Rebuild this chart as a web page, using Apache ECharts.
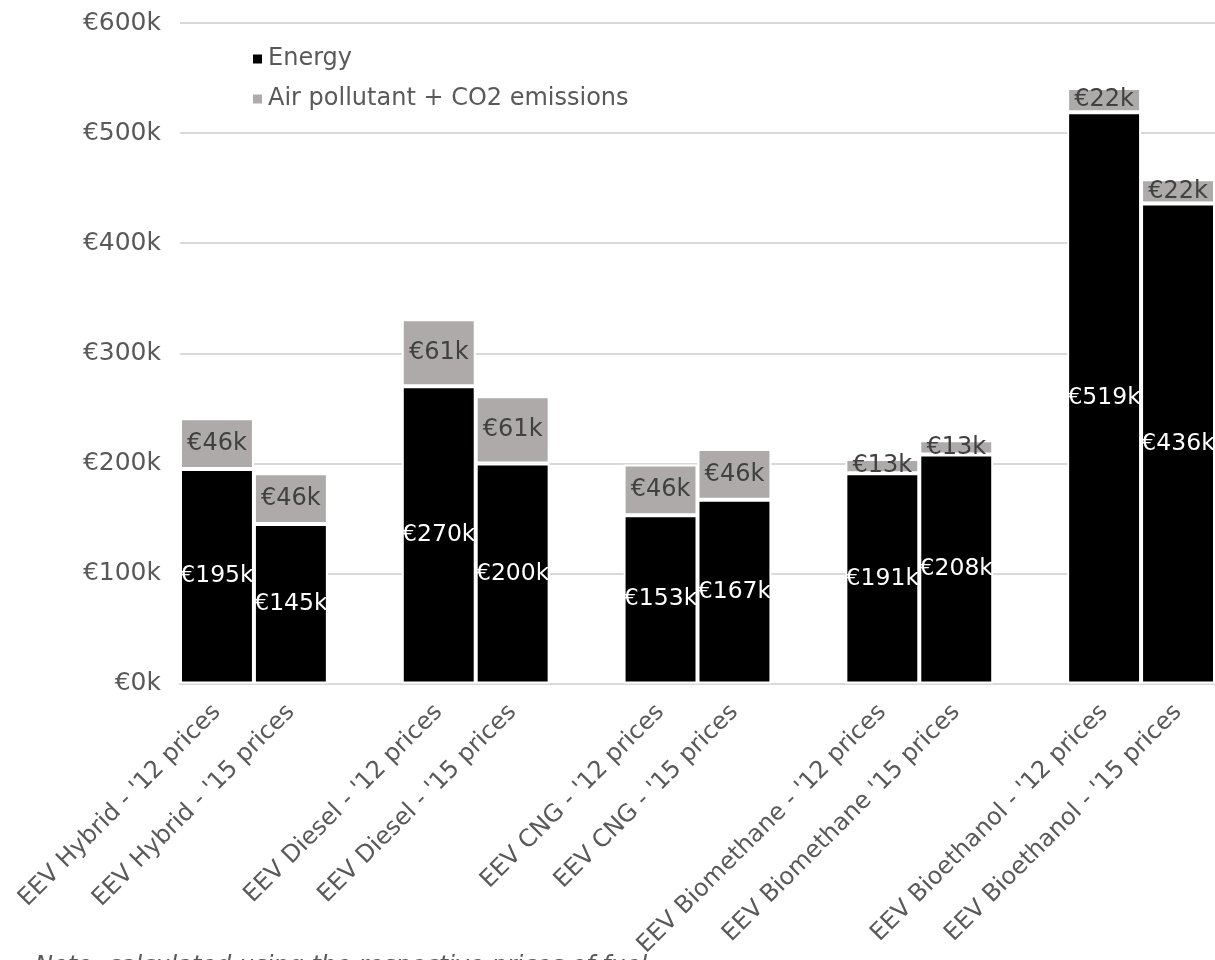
<!DOCTYPE html>
<html>
<head>
<meta charset="utf-8">
<script src="https://cdn.jsdelivr.net/npm/echarts@6/dist/echarts.min.js"></script>
<style>html,body{margin:0;padding:0;background:#fff;}#c{width:1215px;height:960px;}</style>
</head>
<body>
<div id="c"></div>
<script>
const categories = ["EEV Hybrid - '12 prices", "EEV Hybrid - '15 prices", "",
  "EEV Diesel - '12 prices", "EEV Diesel - '15 prices", "",
  "EEV CNG - '12 prices", "EEV CNG - '15 prices", "",
  "EEV Biomethane - '12 prices", "EEV Biomethane '15 prices", "",
  "EEV Bioethanol - '12 prices", "EEV Bioethanol - '15 prices"];
const energy = [195, 145, null, 270, 200, null, 153, 167, null, 191, 208, null, 519, 436];
const emissions = [46, 46, null, 61, 61, null, 46, 46, null, 13, 13, null, 22, 22];
const yTicks = [0, 100, 200, 300, 400, 500, 600];
const seriesNames = ['Energy', 'Air pollutant + CO2 emissions'];
const note = 'Note: calculated using the respective prices of fuel';

const FONT = 'Verdana, "DejaVu Sans", sans-serif';
const chart = echarts.init(document.getElementById('c'), null, {renderer: 'canvas'});
chart.setOption({
  backgroundColor: '#ffffff',
  animation: false,
  textStyle: {fontFamily: FONT},
  grid: {left: 180, top: 23, width: 1041, bottom: 276, containLabel: false},
  legend: {
    left: 246, top: 42, orient: 'vertical', itemGap: 16,
    itemWidth: 11, itemHeight: 11, icon: 'rect',
    textStyle: {fontSize: 24, color: '#595959', fontFamily: FONT},
    data: seriesNames
  },
  xAxis: {
    type: 'category', data: categories,
    axisLine: {lineStyle: {color: '#d9d9d9', width: 2}},
    axisTick: {show: false},
    axisLabel: {interval: 0, rotate: 45, fontSize: 24, color: '#595959', margin: 25, fontFamily: FONT}
  },
  yAxis: {
    type: 'value', min: yTicks[0], max: yTicks[yTicks.length - 1], interval: 100,
    axisLine: {show: false}, axisTick: {show: false},
    splitLine: {lineStyle: {color: '#d9d9d9', width: 2}},
    axisLabel: {fontSize: 25, color: '#595959', margin: 19, fontFamily: FONT,
      formatter: v => '€' + v + 'k'}
  },
  series: [
    {
      name: seriesNames[0], type: 'bar', stack: 'a', data: energy,
      barCategoryGap: '0%',
      itemStyle: {color: '#000000', borderColor: '#ffffff', borderWidth: 2},
      label: {show: true, position: 'inside', color: '#ffffff', fontSize: 23.5, fontFamily: FONT,
        formatter: p => '€' + p.value + 'k'}
    },
    {
      name: seriesNames[1], type: 'bar', stack: 'a', data: emissions,
      barCategoryGap: '0%',
      itemStyle: {color: '#aeaaaa', borderColor: '#ffffff', borderWidth: 2},
      label: {show: true, position: 'inside', color: '#404040', fontSize: 24, fontFamily: FONT,
        formatter: p => '€' + p.value + 'k'}
    }
  ],
  graphic: [{
    type: 'text', left: 35, top: 955,
    style: {text: note, font: 'italic 24px ' + FONT, fill: '#595959'}
  }]
});
</script>
</body>
</html>
